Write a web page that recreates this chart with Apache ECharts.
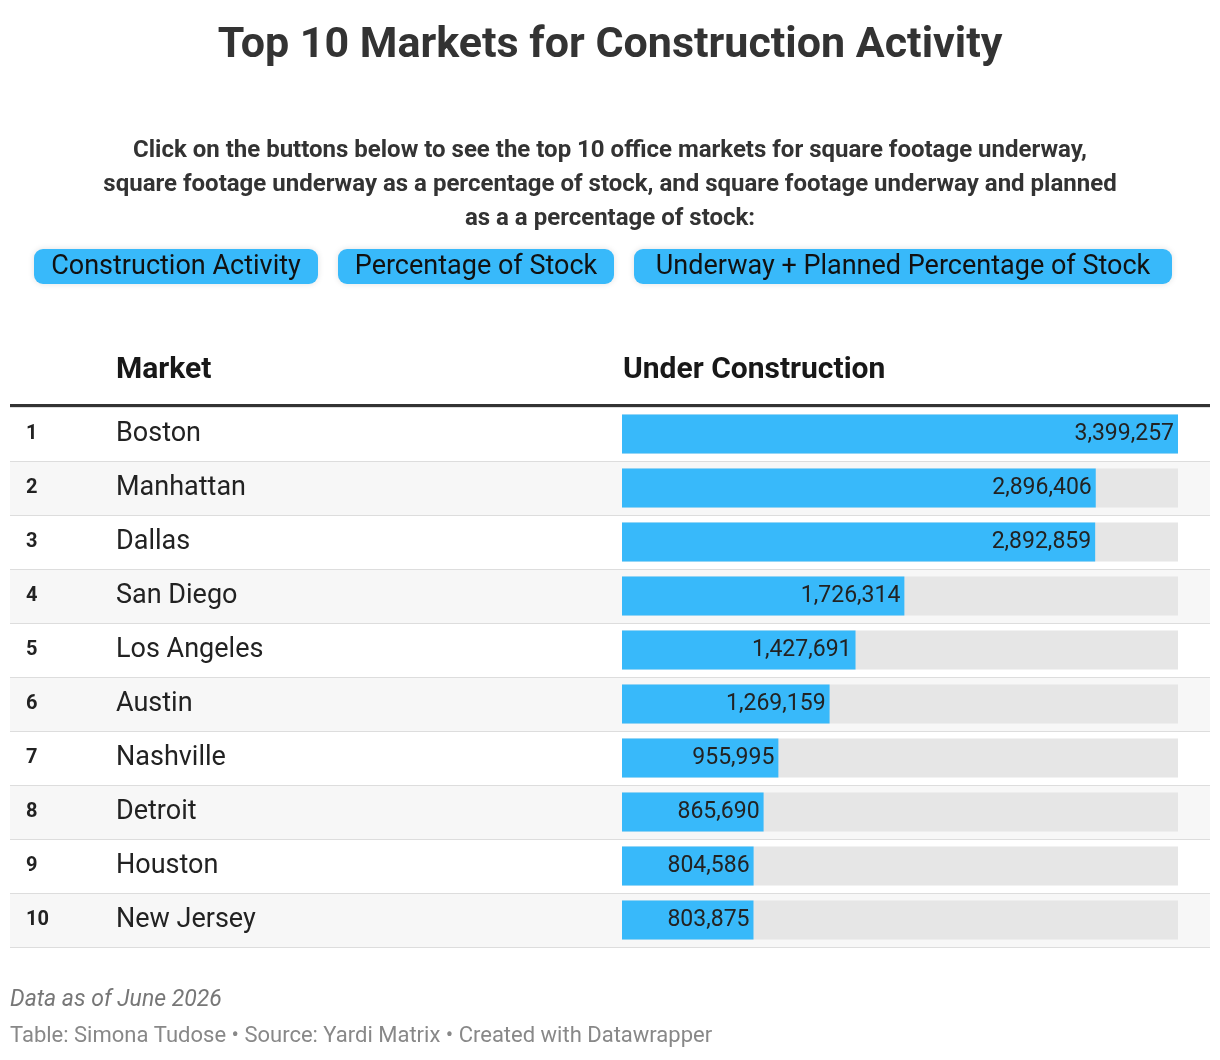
<!DOCTYPE html>
<html>
<head>
<meta charset="utf-8">
<title>Top 10 Markets</title>
<script src="https://cdn.jsdelivr.net/npm/echarts@6/dist/echarts.min.js"></script>
</head>
<body style="margin:0;background:#fff">
<div id="main" style="width:1220px;height:1060px"></div>
<script>
var markets = ['Boston', 'Manhattan', 'Dallas', 'San Diego', 'Los Angeles', 'Austin', 'Nashville', 'Detroit', 'Houston', 'New Jersey'];
var ranks = ['1', '2', '3', '4', '5', '6', '7', '8', '9', '10'];
var underConstruction = [3399257, 2896406, 2892859, 1726314, 1427691, 1269159, 955995, 865690, 804586, 803875];
var buttons = ['Construction Activity', 'Percentage of Stock', 'Underway + Planned Percentage of Stock'];
var buttonX = [34, 338, 634];
var buttonW = [284, 276, 538];

var font = 'Roboto, "Noto Sans", sans-serif';
var chart = echarts.init(document.getElementById('main'));
var blue = '#38b9fa';

var graphics = [
    { type: 'text', x: 610, y: 46, style: { text: 'Top 10 Markets for Construction Activity', font: 'bold 43px ' + font, fill: '#333', align: 'center', verticalAlign: 'middle' } },
    { type: 'text', x: 610, y: 185, style: { text: 'Click on the buttons below to see the top 10 office markets for square footage underway,\nsquare footage underway as a percentage of stock, and square footage underway and planned\nas a a percentage of stock:', font: 'bold 24px ' + font, fill: '#333', align: 'center', verticalAlign: 'middle', lineHeight: 34 } },
    { type: 'text', x: 116, y: 370, style: { text: 'Market', font: 'bold 30px ' + font, fill: '#181818', verticalAlign: 'middle' } },
    { type: 'text', x: 623, y: 370, style: { text: 'Under Construction', font: 'bold 30px ' + font, fill: '#181818', verticalAlign: 'middle' } },
    { type: 'rect', left: 10, top: 404, shape: { width: 1200, height: 3 }, style: { fill: '#333' }, z: 10 },
    { type: 'text', x: 10, y: 1000, style: { text: 'Data as of June 2026', font: 'italic 23px ' + font, fill: '#777', verticalAlign: 'middle' } },
    { type: 'text', x: 10, y: 1036, style: { text: 'Table: Simona Tudose \u2022 Source: Yardi Matrix \u2022 Created with Datawrapper', font: '22px ' + font, fill: '#888', verticalAlign: 'middle' } }
];
buttons.forEach(function (b, i) {
    graphics.push({ type: 'rect', left: buttonX[i], top: 249, shape: { width: buttonW[i], height: 35, r: 9 }, style: { fill: blue, shadowBlur: 6, shadowColor: 'rgba(0,0,0,0.12)' } });
    graphics.push({ type: 'text', x: buttonX[i] + buttonW[i] / 2, y: 267, style: { text: b, font: '27px ' + font, fill: '#111', align: 'center', verticalAlign: 'middle' } });
});

var option = {
    animation: false,
    graphic: graphics,
    grid: [
        { left: 10, right: 10, top: 407, height: 540 },
        { left: 622, right: 42, top: 407, height: 540 }
    ],
    xAxis: [
        { gridIndex: 0, type: 'value', show: false, max: 1 },
        { gridIndex: 1, type: 'value', show: false, min: 0, max: 3399257 }
    ],
    yAxis: [
        {
            gridIndex: 0, type: 'category', inverse: true,
            data: markets,
            axisLine: { show: false }, axisTick: { show: false },
            splitArea: { show: true, areaStyle: { color: ['#ffffff', '#f7f7f7'] } },
            splitLine: { show: true, lineStyle: { color: '#dddddd', width: 1 } },
            axisLabel: {
                inside: true, margin: 16,
                formatter: function (v, i) { return '{r|' + ranks[i] + '}{n|' + v + '}'; },
                rich: {
                    r: { width: 90, fontSize: 20, fontWeight: 'bold', fontFamily: font, color: '#222' },
                    n: { fontSize: 27, fontFamily: font, color: '#222' }
                }
            }
        },
        {
            gridIndex: 1, type: 'category', inverse: true, data: markets, show: false
        }
    ],
    series: [
        { type: 'bar', xAxisIndex: 0, yAxisIndex: 0, data: markets.map(function () { return 0; }), silent: true },
        {
            type: 'bar', xAxisIndex: 1, yAxisIndex: 1, data: underConstruction,
            barWidth: 39,
            itemStyle: { color: blue },
            showBackground: true,
            backgroundStyle: { color: '#e6e6e6' },
            label: {
                show: true, position: 'insideRight', distance: 4,
                formatter: function (p) { return p.value.toLocaleString('en-US'); },
                fontSize: 23, fontFamily: font, color: '#222'
            }
        }
    ]
};
chart.setOption(option);
</script>
</body>
</html>
